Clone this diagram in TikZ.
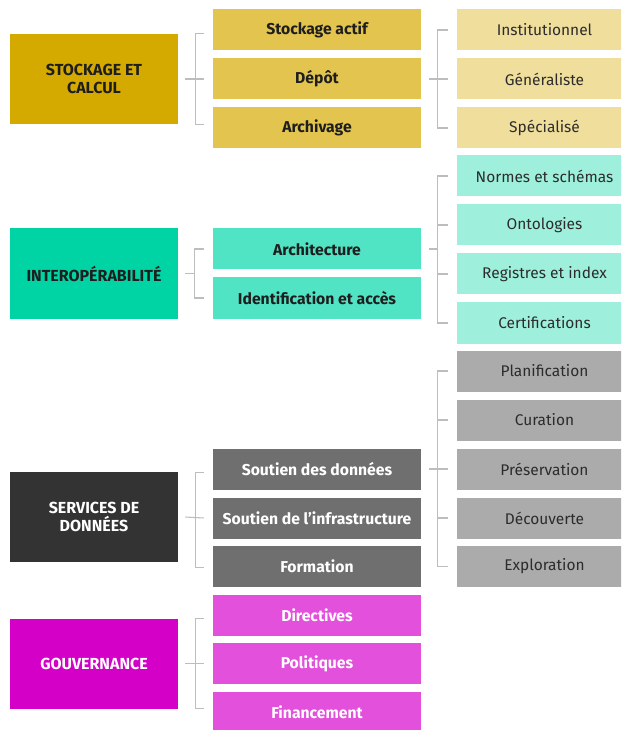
\documentclass[tikz,border=0pt]{standalone}
\usepackage{fontspec}
\setmainfont{Fira Sans}
\usetikzlibrary{calc}
\definecolor{goldA}{HTML}{D4AA00}
\definecolor{goldB}{HTML}{E3C44E}
\definecolor{goldC}{HTML}{F0DE9C}
\definecolor{tealA}{HTML}{00D4A4}
\definecolor{tealB}{HTML}{50E4C4}
\definecolor{tealC}{HTML}{9EF0DC}
\definecolor{greyA}{HTML}{333333}
\definecolor{greyB}{HTML}{6F6F6F}
\definecolor{greyC}{HTML}{ABABAB}
\definecolor{magA}{HTML}{D400C8}
\definecolor{magB}{HTML}{E350DC}
\definecolor{linegrey}{HTML}{BDBDBD}
\definecolor{darktext}{HTML}{1E1E1E}
\definecolor{midtext}{HTML}{2C2C2C}
\tikzset{
  lone/.style={rectangle, inner sep=0pt, minimum width=126pt, minimum height=67.5pt, align=center, font=\bfseries\fontsize{12}{13}\selectfont},
  ltwo/.style={rectangle, inner sep=0pt, minimum width=156pt, minimum height=30.75pt, align=center, font=\bfseries\fontsize{11.8}{13}\selectfont},
  lthree/.style={rectangle, inner sep=0pt, minimum width=131.25pt, minimum height=30.75pt, align=center, text=midtext, font=\fontsize{11.6}{13}\selectfont},
  conn/.style={draw=linegrey, line width=0.8pt}
}
\begin{document}
\begin{tikzpicture}[x=0.75pt,y=-0.75pt]
\useasboundingbox (0,0) rectangle (621,730);
\clip (0,0) rectangle (621,730);
\fill[white] (0,0) rectangle (621,730);

% ---------- Stockage et calcul
\node[lone, fill=goldA, text=darktext] (s1) at (94,79) {STOCKAGE ET\\CALCUL};
\node[ltwo, fill=goldB, text=darktext] (s2a) at (317,30) {Stockage actif};
\node[ltwo, fill=goldB, text=darktext] (s2b) at (317,79) {Dépôt};
\node[ltwo, fill=goldB, text=darktext] (s2c) at (317,128) {Archivage};
\node[lthree, fill=goldC] (s3a) at (544.5,30) {Institutionnel};
\node[lthree, fill=goldC] (s3b) at (544.5,79) {Généraliste};
\node[lthree, fill=goldC] (s3c) at (544.5,128) {Spécialisé};

% ---------- Interopérabilité
\node[lone, fill=tealA, text=darktext] (i1) at (94,273.5) {INTEROPÉRABILITÉ};
\node[ltwo, fill=tealB, text=darktext] (i2a) at (317,249) {Architecture};
\node[ltwo, fill=tealB, text=darktext] (i2b) at (317,298) {Identification et accès};
\node[lthree, fill=tealC] (i3a) at (544.5,176) {Normes et schémas};
\node[lthree, fill=tealC] (i3b) at (544.5,225) {Ontologies};
\node[lthree, fill=tealC] (i3c) at (544.5,274) {Registres et index};
\node[lthree, fill=tealC] (i3d) at (544.5,323) {Certifications};

% ---------- Services de données
\node[lone, fill=greyA, text=white] (d1) at (94,517) {SERVICES DE\\DONNÉES};
\node[ltwo, fill=greyB, text=white] (d2a) at (317,469) {Soutien des données};
\node[ltwo, fill=greyB, text=white] (d2b) at (317,518) {Soutien de l’infrastructure};
\node[ltwo, fill=greyB, text=white] (d2c) at (317,566.5) {Formation};
\node[lthree, fill=greyC] (d3a) at (544.5,371) {Planification};
\node[lthree, fill=greyC] (d3b) at (544.5,420) {Curation};
\node[lthree, fill=greyC] (d3c) at (544.5,469) {Préservation};
\node[lthree, fill=greyC] (d3d) at (544.5,518) {Découverte};
\node[lthree, fill=greyC] (d3e) at (544.5,566.5) {Exploration};

% ---------- Gouvernance
\node[lone, fill=magA, text=white] (g1) at (94,663.5) {GOUVERNANCE};
\node[ltwo, fill=magB, text=white] (g2a) at (317,615) {Directives};
\node[ltwo, fill=magB, text=white] (g2b) at (317,663.5) {Politiques};
\node[ltwo, fill=magB, text=white] (g2c) at (317,712) {Financement};

% ---------- connectors level 1 -> level 2
% stockage
\draw[conn] ($(s1.east)+(7,0)$) -- ($(s2b.west)+(-9,0)$);
\draw[conn] ($(s1.north east)+(26,0)$) -- ++(-9,0) |- ($(s1.south east)+(26,0)$);
% interop
\draw[conn] ($(i1.east)+(7,0)$) -- ++(10,0);
\draw[conn] ($(i2a.west)+(-9,0)$) -- ++(-9,0) |- ($(i2b.west)+(-9,0)$);
% services
\draw[conn] ($(d1.east)+(7,0)$) -- ($(d2b.west)+(-9,0)$);
\draw[conn] ($(d1.north east)+(26,1)$) -- ++(-9,0) |- ($(d2c.west)+(-9,1)$);
% gouvernance
\draw[conn] ($(g1.east)+(7,0)$) -- ($(g2b.west)+(-9,0)$);
\draw[conn] ($(g1.north east)+(26,0)$) -- ++(-9,0) |- ($(g1.south east)+(26,0)$);

% ---------- connectors level 2 -> level 3
% stockage
\draw[conn] ($(s2b.east)+(8,0)$) -- ($(s3b.west)+(-9,0)$);
\draw[conn] ($(s3a.west)+(-9,0)$) -- ++(-10,0) |- ($(s3c.west)+(-9,0)$);
% interop
\draw[conn] ($(i2a.east)+(8,0)$) -- ++(9,0);
\draw[conn] ($(i3a.west)+(-9,0)$) -- ++(-10,0) |- ($(i3d.west)+(-9,0)$);
\draw[conn] ($(i3b.west)+(-9,0)$) -- ++(-10,0);
\draw[conn] ($(i3c.west)+(-9,0)$) -- ++(-10,0);
% services
\draw[conn] ($(d2a.east)+(8,0)$) -- ($(d3c.west)+(-9,0)$);
\draw[conn] ($(d3a.west)+(-9,0)$) -- ++(-10,0) |- ($(d3e.west)+(-9,0)$);
\draw[conn] ($(d3b.west)+(-9,0)$) -- ++(-10,0);
\draw[conn] ($(d3d.west)+(-9,0)$) -- ++(-10,0);
\end{tikzpicture}
\end{document}
